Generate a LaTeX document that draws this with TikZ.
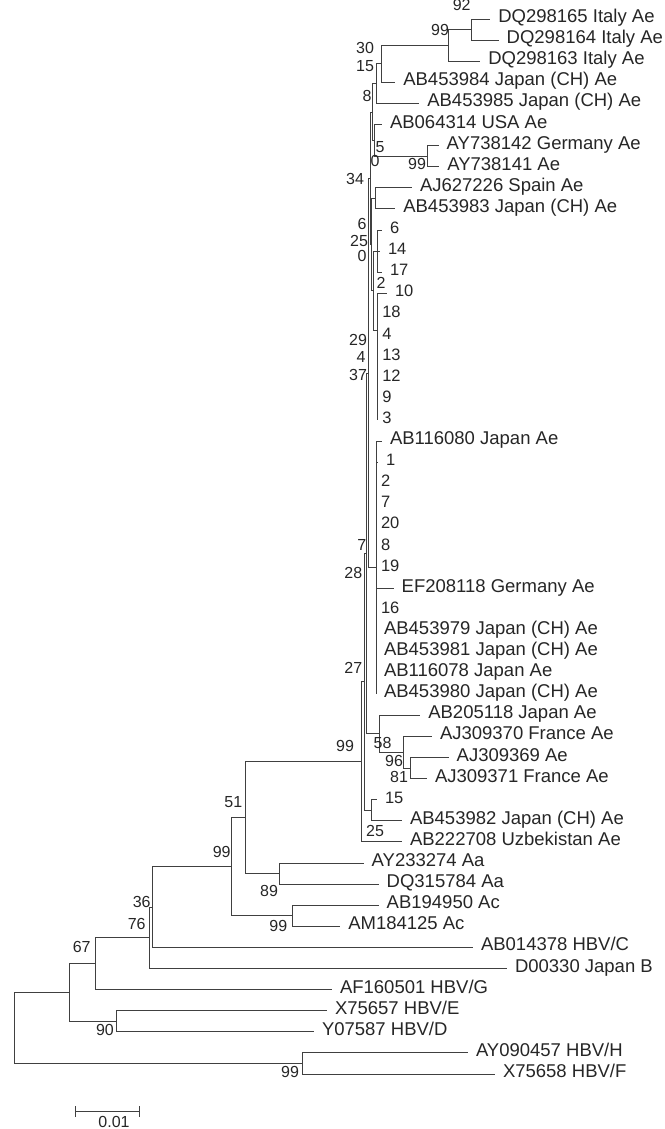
\documentclass[tikz,border=0pt]{standalone}
\usepackage{fontspec}
\setmainfont{Liberation Sans}
\usetikzlibrary{arrows.meta}
\newcommand{\taxfont}{\fontsize{18.5}{20}\selectfont}
\newcommand{\numfont}{\fontsize{16.5}{18}\selectfont}
\newcommand{\bsfont}{\fontsize{16}{18}\selectfont}

\begin{document}
\begin{tikzpicture}[x=1pt, y=-1pt, line width=0.9pt, color=black!75,
    leaf/.style={anchor=west, inner xsep=8pt, inner ysep=0pt, outer sep=0pt,
      text height=0.716em, text depth=0pt, font=\taxfont, text=black!85},
    numleaf/.style={leaf, font=\numfont},
    zleaf/.style={numleaf, inner xsep=5pt},
    boot/.style={inner sep=0pt, text height=0.716em, text depth=0pt, font=\bsfont, text=black!85}]
  \useasboundingbox (0,0) rectangle (664,1129);

  % 1. inner nodes
  \coordinate (n92) at (471.7,29.55);
  \coordinate (n99a) at (448.3,45.4);
  \coordinate (n30) at (381.7,63.8);
  \coordinate (n15) at (376.7,83.6);
  \coordinate (n99b) at (427.7,156.2);
  \coordinate (n5) at (374.2,140.3);
  \coordinate (n8) at (372.7,112);
  \coordinate (nSpain) at (375,198.4);
  \coordinate (nA) at (377.3,251.1);
  \coordinate (nB) at (377.3,330);
  \coordinate (nC) at (373.3,290.5);
  \coordinate (nP) at (371.5,244.5);
  \coordinate (nQ) at (370,178.3);
  \coordinate (nComb) at (376,567.6);
  \coordinate (nTop) at (368.5,373);
  \coordinate (n81) at (410.7,768);
  \coordinate (n96) at (403.3,752.2);
  \coordinate (n58) at (379.3,733.8);
  \coordinate (nV) at (366.5,553.4);
  \coordinate (n15b) at (371.7,810.3);
  \coordinate (nU) at (364.5,681.9);
  \coordinate (n99c) at (361.5,761.9);
  \coordinate (n89) at (279.3,873.5);
  \coordinate (n51) at (245,817.7);
  \coordinate (nAc) at (292.7,915.8);
  \coordinate (n99d) at (231.7,866.8);
  \coordinate (n36) at (152.3,907.1);
  \coordinate (n76) at (149,937.8);
  \coordinate (n67) at (95,963.7);
  \coordinate (n90) at (116,1021.3);
  \coordinate (nE) at (69.3,992.5);
  \coordinate (nHF) at (302,1063.5);
  \coordinate (root) at (14,1028);

  % 2. taxa
  \node[leaf] (L1) at (490.3,19) {DQ298165 Italy Ae};
  \node[leaf] (L2) at (498.7,40.1) {DQ298164 Italy Ae};
  \node[leaf] (L3) at (480.3,61.2) {DQ298163 Italy Ae};
  \node[leaf] (L4) at (395.3,82.3) {AB453984 Japan (CH) Ae};
  \node[leaf] (L5) at (419.3,103.4) {AB453985 Japan (CH) Ae};
  \node[leaf] (L6) at (382,124.5) {AB064314 USA Ae};
  \node[leaf] (L7) at (438.7,145.6) {AY738142 Germany Ae};
  \node[leaf] (L8) at (439.3,166.7) {AY738141 Ae};
  \node[leaf] (L9) at (412,187.8) {AJ627226 Spain Ae};
  \node[leaf] (L10) at (395.3,208.9) {AB453983 Japan (CH) Ae};
  \node[numleaf] (L11) at (382,230) {6};
  \node[numleaf] (L12) at (380,251.1) {14};
  \node[numleaf] (L13) at (382,272.2) {17};
  \node[numleaf] (L14) at (387,293.3) {10};
  \node[zleaf] (L15) at (377.3,314.4) {18};
  \node[zleaf] (L16) at (377.3,335.5) {4};
  \node[zleaf] (L17) at (377.3,356.6) {13};
  \node[zleaf] (L18) at (377.3,377.7) {12};
  \node[zleaf] (L19) at (377.3,398.8) {9};
  \node[zleaf] (L20) at (377.3,419.9) {3};
  \node[leaf] (L21) at (382,441) {AB116080 Japan Ae};
  \node[numleaf] (L22) at (378,462.1) {1};
  \node[zleaf] (L23) at (376,483.2) {2};
  \node[zleaf] (L24) at (376,504.3) {7};
  \node[zleaf] (L25) at (376,525.4) {20};
  \node[zleaf] (L26) at (376,546.5) {8};
  \node[zleaf] (L27) at (376,567.6) {19};
  \node[leaf] (L28) at (393.7,588.7) {EF208118 Germany Ae};
  \node[zleaf] (L29) at (376,609.8) {16};
  \node[leaf] (L30) at (376,630.9) {AB453979 Japan (CH) Ae};
  \node[leaf] (L31) at (376,652) {AB453981 Japan (CH) Ae};
  \node[leaf] (L32) at (376,673.1) {AB116078 Japan Ae};
  \node[leaf] (L33) at (376,694.2) {AB453980 Japan (CH) Ae};
  \node[leaf] (L34) at (420.3,715.3) {AB205118 Japan Ae};
  \node[leaf] (L35) at (432,736.4) {AJ309370 France Ae};
  \node[leaf] (L36) at (448.7,757.5) {AJ309369 Ae};
  \node[leaf] (L37) at (427,778.6) {AJ309371 France Ae};
  \node[numleaf] (L38) at (377,799.7) {15};
  \node[leaf] (L39) at (402,820.8) {AB453982 Japan (CH) Ae};
  \node[leaf] (L40) at (402,841.9) {AB222708 Uzbekistan Ae};
  \node[leaf] (L41) at (363.7,863) {AY233274 Aa};
  \node[leaf] (L42) at (378.7,884.1) {DQ315784 Aa};
  \node[leaf] (L43) at (378.7,905.2) {AB194950 Ac};
  \node[leaf] (L44) at (340.3,926.3) {AM184125 Ac};
  \node[leaf] (L45) at (473,947.4) {AB014378 HBV/C};
  \node[leaf] (L46) at (507,968.5) {D00330 Japan B};
  \node[leaf] (L47) at (332,989.6) {AF160501 HBV/G};
  \node[leaf] (L48) at (327,1010.7) {X75657 HBV/E};
  \node[leaf] (L49) at (314,1031.8) {Y07587 HBV/D};
  \node[leaf] (L50) at (468,1052.9) {AY090457 HBV/H};
  \node[leaf] (L51) at (495,1074) {X75658 HBV/F};

  % 3. branches
  \draw (n92) |- (L1.west); \draw (n92) |- (L2.west);
  \draw (n99a) |- (n92); \draw (n99a) |- (L3.west);
  \draw (n30) |- (n99a); \draw (n30) |- (L4.west);
  \draw (n15) |- (n30); \draw (n15) |- (L5.west);
  \draw (n99b) |- (L7.west); \draw (n99b) |- (L8.west);
  \draw (n5) |- (L6.west); \draw (n5) |- (n99b);
  \draw (n8) |- (n15); \draw (n8) |- (n5);
  \draw (nSpain) |- (L9.west); \draw (nSpain) |- (L10.west);
  \draw (nA) |- (L11.west); \draw (nA) |- (L12.west); \draw (nA) |- (L13.west);
  \draw (nB) |- (L14.west); \draw (nB) |- (L15.west); \draw (nB) |- (L16.west);
  \draw (nB) |- (L17.west); \draw (nB) |- (L18.west); \draw (nB) |- (L19.west);
  \draw (nB) |- (L20.west);
  \draw (nC) |- (nA); \draw (nC) |- (nB);
  \draw (nP) |- (nSpain); \draw (nP) |- (nC);
  \draw (nQ) |- (n8); \draw (nQ) |- (nP);
  \draw (nComb) |- (L21.west); \draw (nComb) |- (L22.west); \draw (nComb) |- (L23.west);
  \draw (nComb) |- (L24.west); \draw (nComb) |- (L25.west); \draw (nComb) |- (L26.west);
  \draw (nComb) |- (L27.west); \draw (nComb) |- (L28.west); \draw (nComb) |- (L29.west);
  \draw (nComb) |- (L30.west); \draw (nComb) |- (L31.west); \draw (nComb) |- (L32.west);
  \draw (nComb) |- (L33.west);
  \draw (nTop) |- (nQ); \draw (nTop) |- (nComb);
  \draw (n81) |- (L36.west); \draw (n81) |- (L37.west);
  \draw (n96) |- (L35.west); \draw (n96) |- (n81);
  \draw (n58) |- (L34.west); \draw (n58) |- (n96);
  \draw (nV) |- (nTop); \draw (nV) |- (n58);
  \draw (n15b) |- (L38.west); \draw (n15b) |- (L39.west);
  \draw (nU) |- (nV); \draw (nU) |- (n15b);
  \draw (n99c) |- (nU); \draw (n99c) |- (L40.west);
  \draw (n89) |- (L41.west); \draw (n89) |- (L42.west);
  \draw (n51) |- (n99c); \draw (n51) |- (n89);
  \draw (nAc) |- (L43.west); \draw (nAc) |- (L44.west);
  \draw (n99d) |- (n51); \draw (n99d) |- (nAc);
  \draw (n36) |- (n99d); \draw (n36) |- (L45.west);
  \draw (n76) |- (n36); \draw (n76) |- (L46.west);
  \draw (n67) |- (n76); \draw (n67) |- (L47.west);
  \draw (n90) |- (L48.west); \draw (n90) |- (L49.west);
  \draw (nE) |- (n67); \draw (nE) |- (n90);
  \draw (nHF) |- (L50.west); \draw (nHF) |- (L51.west);
  \draw (root) |- (nE); \draw (root) |- (nHF);

  % 4. bootstrap values
  \node[boot] (b92) at (461.7,7) {92};
  \node[boot] (b99a) at (440,32) {99};
  \node[boot] (b30) at (365,50) {30};
  \node[boot] (b15) at (365,68.3) {15};
  \node[boot] (b8) at (367,98.3) {8};
  \node[boot] (b5) at (380,149) {5};
  \node[boot] (b0a) at (375,163) {0};
  \node[boot] (b99b) at (417,166) {99};
  \node[boot] (b34) at (355,181) {34};
  \node[boot] (b6) at (362,226) {6};
  \node[boot] (b25a) at (359,243) {25};
  \node[boot] (b0b) at (362,258) {0};
  \node[boot] (b2) at (381,285) {2};
  \node[boot] (b29) at (358,342) {29};
  \node[boot] (b4) at (361,359) {4};
  \node[boot] (b37) at (358,377) {37};
  \node[boot] (b7) at (361.7,547) {7};
  \node[boot] (b28) at (353.3,575) {28};
  \node[boot] (b27) at (353.3,670) {27};
  \node[boot] (b99c) at (345,748) {99};
  \node[boot] (b58) at (382.5,745) {58};
  \node[boot] (b96) at (394,763) {96};
  \node[boot] (b81) at (399,779) {81};
  \node[boot] (b25b) at (375,833) {25};
  \node[boot] (b51) at (233.3,804) {51};
  \node[boot] (b99d) at (221.7,854) {99};
  \node[boot] (b36) at (141.7,904) {36};
  \node[boot] (b76) at (136.7,926) {76};
  \node[boot] (b67) at (81.7,949) {67};
  \node[boot] (b89) at (269,893) {89};
  \node[boot] (b99e) at (278.3,927.5) {99};
  \node[boot] (b90) at (105,1031.7) {90};
  \node[boot] (b99f) at (290,1073.5) {99};

  % 5. scale bar
  \coordinate (sbl) at (75,1111.7);
  \coordinate (sbr) at (140,1111.7);
  \draw[{Bar[width=11pt]}-{Bar[width=11pt]}] (sbl) -- (sbr);
  \node[boot] (sblab) at (114,1123.5) {0.01};
\end{tikzpicture}
\end{document}
